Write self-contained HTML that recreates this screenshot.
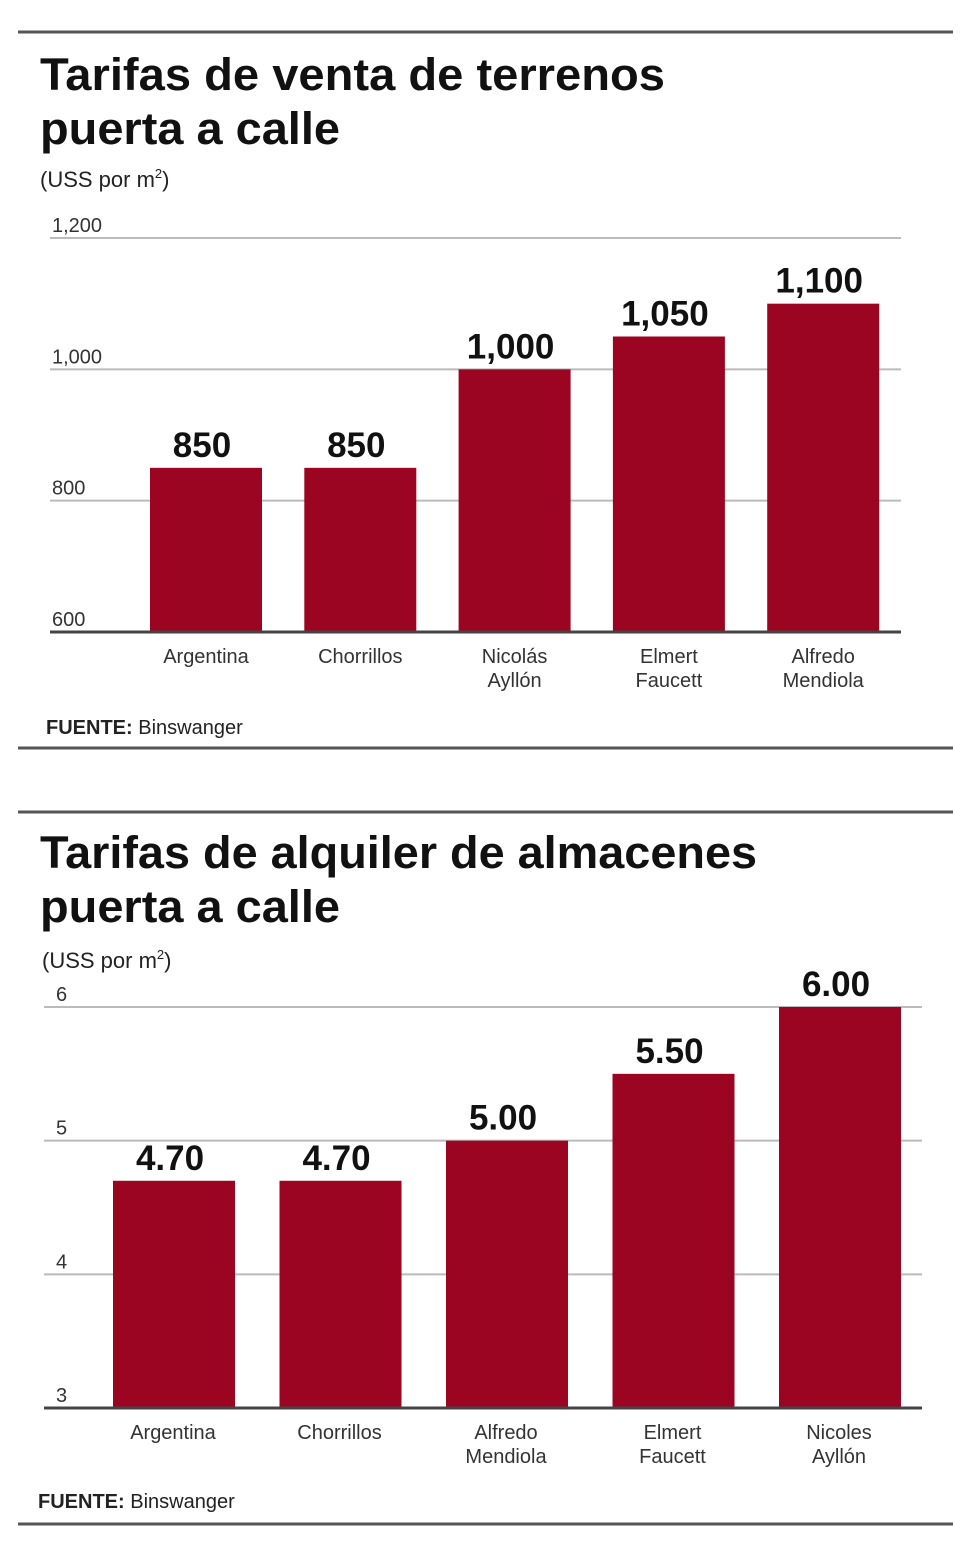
<!DOCTYPE html>
<html><head><meta charset="utf-8">
<style>
html,body{margin:0;padding:0;background:#fff;}
svg{display:block;font-family:"Liberation Sans",sans-serif;}
</style></head>
<body>
<svg id="s" width="980" height="1556" viewBox="0 0 980 1556">
<line x1="18" y1="32" x2="953" y2="32" stroke="#555" stroke-width="3"/>
<text x="40" y="90" font-size="45" font-weight="bold" fill="#111" textLength="625" lengthAdjust="spacingAndGlyphs">Tarifas de venta de terrenos</text>
<text x="40" y="144" font-size="45" font-weight="bold" fill="#111" textLength="300" lengthAdjust="spacingAndGlyphs">puerta a calle</text>
<text x="40" y="187" font-size="22" fill="#222">(USS por m<tspan font-size="13" dy="-9">2</tspan><tspan dy="9">)</tspan></text>
<g id="c1"></g>
<text x="46" y="734" font-size="20" fill="#222"><tspan font-weight="bold">FUENTE:</tspan> Binswanger</text>
<line x1="18" y1="748" x2="953" y2="748" stroke="#555" stroke-width="3"/>

<line x1="18" y1="812" x2="953" y2="812" stroke="#555" stroke-width="3"/>
<text x="40" y="868" font-size="45" font-weight="bold" fill="#111" textLength="717" lengthAdjust="spacingAndGlyphs">Tarifas de alquiler de almacenes</text>
<text x="40" y="922" font-size="45" font-weight="bold" fill="#111" textLength="300" lengthAdjust="spacingAndGlyphs">puerta a calle</text>
<text x="42" y="968" font-size="22" fill="#222">(USS por m<tspan font-size="13" dy="-9">2</tspan><tspan dy="9">)</tspan></text>
<g id="c2"></g>
<text x="38" y="1508" font-size="20" fill="#222"><tspan font-weight="bold">FUENTE:</tspan> Binswanger</text>
<line x1="18" y1="1524" x2="953" y2="1524" stroke="#555" stroke-width="3"/>
</svg>
<script>
const cats1 = [["Argentina"],["Chorrillos"],["Nicolás","Ayllón"],["Elmert","Faucett"],["Alfredo","Mendiola"]];
const vals1 = [850, 850, 1000, 1050, 1100];
const labels1 = ["850","850","1,000","1,050","1,100"];
const ticks1 = [600, 800, 1000, 1200];
const tickLabels1 = ["600","800","1,000","1,200"];

const cats2 = [["Argentina"],["Chorrillos"],["Alfredo","Mendiola"],["Elmert","Faucett"],["Nicoles","Ayllón"]];
const vals2 = [4.70, 4.70, 5.00, 5.50, 6.00];
const labels2 = ["4.70","4.70","5.00","5.50","6.00"];
const ticks2 = [3, 4, 5, 6];
const tickLabels2 = ["3","4","5","6"];

const NS = "http://www.w3.org/2000/svg";
function mk(tag, attrs, parent){const e=document.createElementNS(NS,tag);for(const k in attrs)e.setAttribute(k,attrs[k]);parent.appendChild(e);return e;}

function draw(g, cats, vals, labels, ticks, tickLabels, o){
  const y = v => o.y0 - (v - o.min)/(o.max - o.min)*(o.y0 - o.y1);
  const x = i => o.bx0 + i*o.step;
  ticks.forEach((t,i)=>{
    if(i>0){
      const l = mk("line",{x1:o.gx0,x2:o.gx1,y1:y(t),y2:y(t),stroke:"#bbb","stroke-width":2},g);
      
      
    }
    const tx = mk("text",{x:o.tx,y:y(t)-6,"font-size":20,fill:"#333"},g);
    tx.textContent = tickLabels[i];
    
    
  });
  vals.forEach((v,i)=>{
    const r = mk("rect",{x:x(i),y:y(v),width:o.bw,height:o.y0-y(v),fill:"#9b0522"},g);
    
    
    const vl = mk("text",{x:x(i)+o.bw/2-4,y:y(v)-11,"font-size":35,"font-weight":"bold",fill:"#111","text-anchor":"middle"},g);
    vl.textContent = labels[i];
    
    
    cats[i].forEach((line,j)=>{
      const c = mk("text",{x:x(i)+o.bw/2+o.cdx,y:o.y0+31+j*24,"font-size":20,fill:"#333","text-anchor":"middle"},g);
      c.textContent = line;
      
      
    });
  });
  const b = mk("line",{x1:o.gx0,x2:o.gx1,y1:o.y0,y2:o.y0,stroke:"#444","stroke-width":3},g);
  
  
}
draw(document.getElementById("c1"), cats1, vals1, labels1, ticks1, tickLabels1,
  {min:600,max:1200,y0:632,y1:238,gx0:50,gx1:901,tx:52,bx0:150,step:154.3,bw:112,cdx:0});
draw(document.getElementById("c2"), cats2, vals2, labels2, ticks2, tickLabels2,
  {min:3,max:6,y0:1408,y1:1007,gx0:44,gx1:922,tx:56,bx0:113,step:166.5,bw:122,cdx:-1});
</script>
</body></html>
